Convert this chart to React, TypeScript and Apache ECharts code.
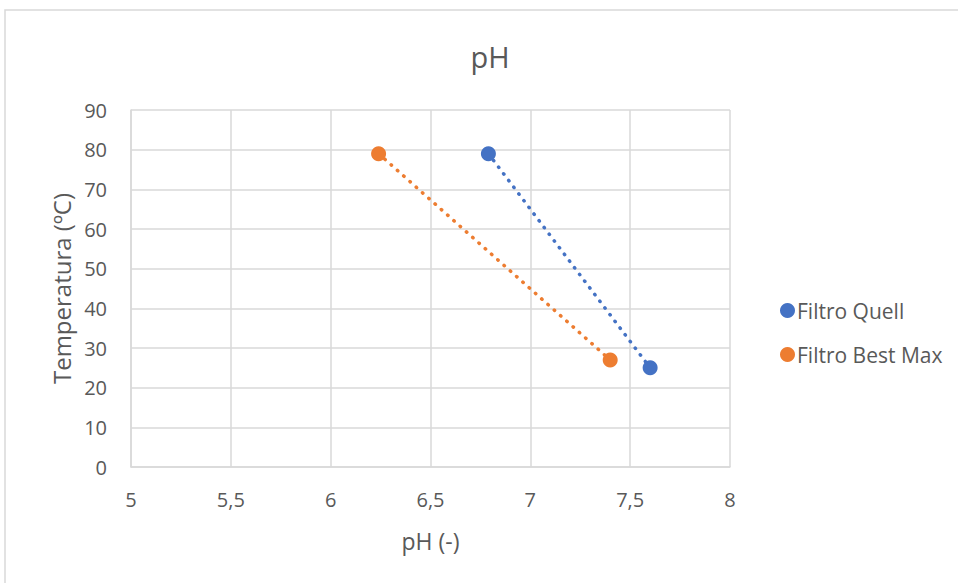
import React, { useEffect, useRef } from "react";
import * as echarts from "echarts";

// pH vs temperature for the two filters
const quellPH = [6.79, 7.6];
const quellTemp = [79, 25];
const bestMaxPH = [6.24, 7.4];
const bestMaxTemp = [79, 27];
const seriesNames = ["Filtro Quell", "Filtro Best Max"];
const xTicks = { min: 5, max: 8, step: 0.5 };
const yTicks = { min: 0, max: 90, step: 10 };

const FONT = "'Open Sans', Lato, sans-serif";
const TEXT = "#595959";
const GRID = "#d9d9d9";

function pairs(xs: number[], ys: number[]) {
  return xs.map((x, i) => [x, ys[i]]);
}

export default function App() {
  const ref = useRef<HTMLDivElement>(null);

  useEffect(() => {
    if (!ref.current) return;
    const chart = echarts.init(ref.current, undefined, { renderer: "svg" });
    const dotted = (color: string) => ({
      color,
      width: 3.5,
      type: [0.5, 7.9] as number[],
      cap: "round" as const,
    });
    chart.setOption({
      animation: false,
      backgroundColor: "#ffffff",
      textStyle: { fontFamily: FONT },
      graphic: [
        {
          type: "rect",
          shape: { x: 5, y: 10, width: 1000, height: 700 },
          style: { fill: "none", stroke: GRID, lineWidth: 1.5 },
          silent: true,
          z: -1,
        },
        {
          type: "text",
          x: 490,
          y: 56,
          style: {
            text: "pH",
            fontFamily: FONT,
            fontSize: 29,
            fill: TEXT,
            textAlign: "center",
            textVerticalAlign: "middle",
          },
        },
      ],
      grid: { left: 131, right: 228, top: 110, bottom: 116 },
      legend: {
        orient: "vertical",
        left: 775,
        top: 295,
        itemGap: 23,
        itemWidth: 15,
        itemHeight: 15,
        icon: "circle",
        textStyle: { fontFamily: FONT, fontSize: 21, color: TEXT, padding: [0, 0, 0, -3] },
        data: seriesNames,
      },
      xAxis: {
        type: "value",
        min: xTicks.min,
        max: xTicks.max,
        interval: xTicks.step,
        name: "pH (-)",
        nameLocation: "middle",
        nameGap: 62,
        nameTextStyle: { fontFamily: FONT, fontSize: 23, color: TEXT },
        axisLine: { show: true, lineStyle: { color: GRID, width: 1.5 } },
        axisTick: { show: false },
        axisLabel: {
          fontFamily: FONT,
          fontSize: 20,
          color: TEXT,
          margin: 22,
          formatter: (v: number) => String(v).replace(".", ","),
        },
        splitLine: { show: true, lineStyle: { color: GRID, width: 1.5 } },
      },
      yAxis: {
        type: "value",
        min: yTicks.min,
        max: yTicks.max,
        interval: yTicks.step,
        name: "Temperatura (ºC)",
        nameLocation: "middle",
        nameGap: 57,
        nameTextStyle: { fontFamily: FONT, fontSize: 24, color: TEXT },
        axisLine: { show: true, lineStyle: { color: GRID, width: 1.5 } },
        axisTick: { show: false },
        axisLabel: { fontFamily: FONT, fontSize: 20, color: TEXT, margin: 24 },
        splitLine: { show: true, lineStyle: { color: GRID, width: 1.5 } },
      },
      series: [
        {
          name: seriesNames[0],
          type: "line",
          data: pairs(quellPH, quellTemp),
          symbol: "circle",
          symbolSize: 15,
          itemStyle: { color: "#4472c4" },
          lineStyle: dotted("#4472c4"),
        },
        {
          name: seriesNames[1],
          type: "line",
          data: pairs(bestMaxPH, bestMaxTemp),
          symbol: "circle",
          symbolSize: 15,
          itemStyle: { color: "#ed7d31" },
          lineStyle: dotted("#ed7d31"),
        },
      ],
    });
    return () => chart.dispose();
  }, []);

  return (
    <div
      ref={ref}
      style={{ position: "fixed", left: 0, top: 0, width: 958, height: 583 }}
    />
  );
}
